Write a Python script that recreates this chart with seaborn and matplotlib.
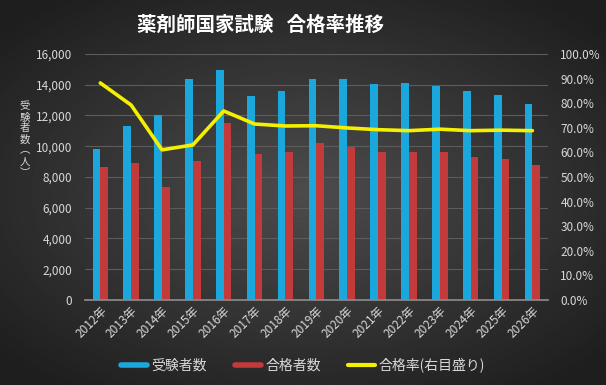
import numpy as np
import pandas as pd
import matplotlib
matplotlib.use('Agg')
import matplotlib.pyplot as plt
from matplotlib.lines import Line2D
from matplotlib.ticker import FuncFormatter, MultipleLocator
import seaborn as sns

# data
years = ['2012年', '2013年', '2014年', '2015年', '2016年', '2017年', '2018年', '2019年',
         '2020年', '2021年', '2022年', '2023年', '2024年', '2025年', '2026年']
examinees = [9800, 11300, 12000, 14350, 14950, 13250, 13600, 14400,
             14350, 14050, 14100, 13900, 13600, 13300, 12750]
passed = [8650, 8900, 7350, 9050, 11500, 9500, 9600, 10200,
          9950, 9600, 9600, 9600, 9300, 9150, 8800]
pass_rate = [88.2, 79.2, 61.0, 63.0, 76.8, 71.5, 70.7, 70.8,
             69.9, 69.2, 68.8, 69.4, 68.8, 69.0, 68.8]

series_names = ['受験者数', '合格者数']
line_name = '合格率(右目盛り)'
ylabel_chars = ['受', '験', '者', '数', '︵', '人', '︶']

blue = '#1ba7dc'
red = '#c23a3a'
yellow = '#f5f000'
txt = '#d8d8d8'
grid = '#5c5c5c'

sns.set_theme(style='dark')
plt.rcParams['font.family'] = ['Noto Sans CJK JP', 'DejaVu Sans']
plt.rcParams['axes.unicode_minus'] = False

df = pd.DataFrame({
    '年': years * 2,
    '人数': examinees + passed,
    '区分': [series_names[0]] * len(years) + [series_names[1]] * len(years),
})

fig = plt.figure(figsize=(6.06, 3.85), dpi=100)

# radial dark gradient background
bg = fig.add_axes([0, 0, 1, 1], zorder=-10)
gx, gy = np.meshgrid(np.linspace(-1, 1, 300), np.linspace(-1, 1, 200))
r = np.clip(np.sqrt(gx ** 2 * 0.8 + gy ** 2 * 0.9), 0, 1.2)
bg.imshow(0.30 - 0.15 * r, cmap='gray', vmin=0, vmax=1, aspect='auto',
          extent=[0, 1, 0, 1])
bg.axis('off')

ax = fig.add_axes([0.140, 0.221, 0.764, 0.639])
ax.patch.set_alpha(0)
sns.barplot(data=df, x='年', y='人数', hue='区分', palette=[blue, red],
            width=0.5, gap=0, ax=ax, legend=False, saturation=1, linewidth=0)

ax.set_ylim(0, 16000)
ax.yaxis.set_major_locator(MultipleLocator(2000))
ax.yaxis.set_major_formatter(FuncFormatter(lambda v, p: f'{int(v):,}'))
ax.set_xlim(-0.5, len(years) - 0.5)
ax.set_xlabel('')
ax.set_ylabel('')
ax.grid(axis='y', color=grid, linewidth=0.8)
ax.set_axisbelow(True)
for s in ['top', 'right', 'left']:
    ax.spines[s].set_visible(False)
ax.spines['bottom'].set_color('#8a8a8a')
ax.tick_params(axis='y', length=0, pad=9, colors=txt, labelsize=8.5)
ax.tick_params(axis='x', length=0, pad=3, colors=txt, labelsize=8.5)
for lab in ax.get_xticklabels():
    lab.set_rotation(45)
    lab.set_ha('right')
    lab.set_rotation_mode('anchor')

ax2 = ax.twinx()
sns.lineplot(x=np.arange(len(years)), y=pass_rate, color=yellow, linewidth=2.6,
             ax=ax2)
ax2.set_ylim(0, 100)
ax2.yaxis.set_major_locator(MultipleLocator(10))
ax2.yaxis.set_major_formatter(FuncFormatter(lambda v, p: f'{v:.1f}%'))
ax2.tick_params(axis='y', length=0, pad=9, colors=txt, labelsize=8.5)
for s in ax2.spines.values():
    s.set_visible(False)
ax2.grid(False)

fig.text(0.43, 0.935, '薬剤師国家試験   合格率推移', ha='center', va='center',
         color='white', fontsize=14, fontweight='bold')

# stacked vertical y label, one glyph at a time (pixel steps)
ypix = 101
for ch in ylabel_chars:
    fig.text(25 / 606, 1 - (ypix + 5.5) / 385, ch, ha='center',
             va='center', color=txt, fontsize=7.5)
    ypix += 11

handles = [Line2D([0], [0], color=blue, linewidth=4),
           Line2D([0], [0], color=red, linewidth=4),
           Line2D([0], [0], color=yellow, linewidth=3)]
fig.legend(handles, series_names + [line_name], loc='center',
           bbox_to_anchor=(0.5, 0.052), ncol=3, frameon=False,
           labelcolor=txt, fontsize=10, handlelength=1.9, handletextpad=0.3,
           columnspacing=2.0)

fig.savefig('out.png', dpi=100)
